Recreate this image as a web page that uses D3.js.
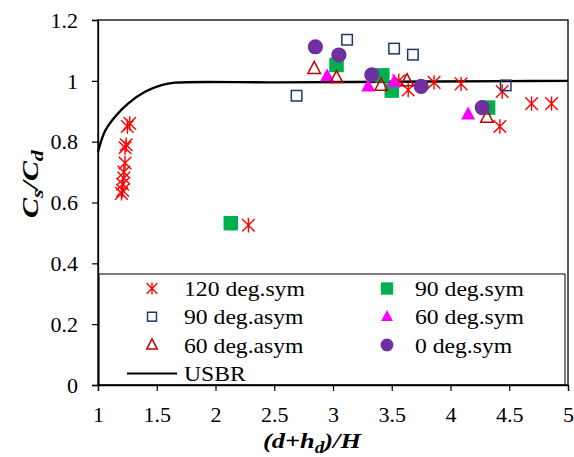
<!DOCTYPE html>
<html><head><meta charset="utf-8">
<script src="https://cdn.jsdelivr.net/npm/d3@7/dist/d3.min.js"></script>
<style>body{margin:0;background:#fff}svg{display:block}</style>
</head><body>
<svg id="c" width="574" height="457"></svg>
<script>
// ---- data ----
const xTicks = [1, 1.5, 2, 2.5, 3, 3.5, 4, 4.5, 5];
const yTicks = [0, 0.2, 0.4, 0.6, 0.8, 1, 1.2];
const sym120 = [[1.27,0.86],[1.25,0.85],[1.24,0.79],[1.23,0.78],[1.23,0.73],[1.22,0.70],[1.22,0.68],[1.21,0.66],[1.21,0.64],[1.20,0.63],[2.28,0.525],[3.56,1.0],[3.64,0.97],[3.86,0.995],[4.09,0.99],[4.44,0.965],[4.42,0.85],[4.69,0.925],[4.86,0.925]];
const sym90 = [[2.13,0.532],[3.03,1.052],[3.42,1.018],[3.50,0.968],[4.32,0.912]];
const asym90 = [[2.69,0.951],[3.12,1.135],[3.52,1.106],[3.68,1.086],[4.47,0.985]];
const sym60 = [[2.95,1.016],[3.30,0.982],[3.52,0.997],[4.15,0.89]];
const asym60 = [[2.84,1.04],[3.03,1.01],[3.41,0.985],[3.63,1.0],[4.31,0.88]];
const sym0 = [[2.85,1.112],[3.05,1.085],[3.33,1.02],[3.75,0.982],[4.27,0.912]];
const usbr = [[1.0,0.767],[1.06,0.835],[1.145,0.882],[1.258,0.926],[1.40,0.964],[1.54,0.986],[1.655,0.994],[2.5,0.995],[3.5,0.997],[4.5,0.999],[5.0,1.0]];
const legendItems = [
  {label:"120 deg.sym", type:"star"},
  {label:"90 deg.sym", type:"fsquare"},
  {label:"90 deg.asym", type:"osquare"},
  {label:"60 deg.sym", type:"ftri"},
  {label:"60 deg.asym", type:"otri"},
  {label:"0 deg.sym", type:"circle"}
];

const svg = d3.select("#c");
const x = d3.scaleLinear().domain([1,5]).range([98,568]);
const y = d3.scaleLinear().domain([0,1.2]).range([385,20]);
const font = "'Liberation Serif','Times New Roman',serif";

function marker(g, type, cx, cy, s) {
  s = s || 1;
  if (type === "star") {
    const h = 7.2*s, d = 6.3*s;
    const p = `M${cx},${cy-h}L${cx},${cy+h}M${cx-d},${cy-d}L${cx+d},${cy+d}M${cx-d},${cy+d}L${cx+d},${cy-d}`;
    g.append("path").attr("d",p).attr("stroke","#FF0000").attr("stroke-width",1.4).attr("fill","none");
  } else if (type === "fsquare") {
    const a = 14.5*s;
    g.append("rect").attr("x",cx-a/2).attr("y",cy-a/2).attr("width",a).attr("height",a).attr("fill","#00B050");
  } else if (type === "osquare") {
    const a = 10.5*s;
    g.append("rect").attr("x",cx-a/2).attr("y",cy-a/2).attr("width",a).attr("height",a).attr("fill","none").attr("stroke","#1F3864").attr("stroke-width",1.5);
  } else if (type === "ftri") {
    const w = 14*s, h = 13*s;
    g.append("path").attr("d",`M${cx},${cy-h*0.6}L${cx+w/2},${cy+h*0.4}L${cx-w/2},${cy+h*0.4}Z`).attr("fill","#FF00FF");
  } else if (type === "otri") {
    const w = 12.5*s, h = 12*s;
    g.append("path").attr("d",`M${cx},${cy-h*0.6}L${cx+w/2},${cy+h*0.4}L${cx-w/2},${cy+h*0.4}Z`).attr("fill","none").attr("stroke","#C00000").attr("stroke-width",1.5);
  } else if (type === "circle") {
    g.append("circle").attr("cx",cx).attr("cy",cy).attr("r",7.6*s).attr("fill","#7030A0");
  }
}

// USBR curve
const line = d3.line().x(d=>x(d[0])).y(d=>y(d[1])).curve(d3.curveCatmullRom.alpha(0.5));
svg.append("path").datum(usbr).attr("d",line).attr("fill","none").attr("stroke","#000").attr("stroke-width",2.4);

// scatter series (Excel order)
const series = [[sym120,"star"],[sym90,"fsquare"],[asym90,"osquare"],[sym60,"ftri"],[asym60,"otri"],[sym0,"circle"]];
const gm = svg.append("g");
series.forEach(([data,type]) => data.forEach(d => marker(gm, type, x(d[0]), y(d[1]))));

// legend box
const lg = svg.append("g");
lg.append("rect").attr("x",99).attr("y",274).attr("width",466).attr("height",111).attr("fill","#fff").attr("stroke","#000").attr("stroke-width",1);
const markY = [288.5, 316.7, 345];
const textY = [296, 324, 352.7];
legendItems.forEach((it,i) => {
  const col = i % 2, row = Math.floor(i/2);
  const mx = col === 0 ? 152 : 387, tx = col === 0 ? 184 : 415;
  marker(lg, it.type, mx, markY[row], 0.85);
  lg.append("text").attr("transform",`translate(${tx},${textY[row]}) scale(1.1,1)`).text(it.label)
    .attr("font-family",font).attr("font-size",21.5).attr("fill","#000");
});
lg.append("line").attr("x1",127).attr("x2",177).attr("y1",373.5).attr("y2",373.5).attr("stroke","#000").attr("stroke-width",2);
lg.append("text").attr("transform","translate(184,380.7) scale(1.1,1)").text("USBR").attr("font-family",font).attr("font-size",21.5);

// frame
svg.append("rect").attr("x",98).attr("y",20).attr("width",470).attr("height",365).attr("fill","none").attr("stroke","#000").attr("stroke-width",1.3);

// axes
const xa = svg.append("g").attr("transform","translate(0,385)")
  .call(d3.axisBottom(x).tickValues(xTicks).tickSize(6).tickFormat(d3.format("")));
const ya = svg.append("g").attr("transform","translate(98,0)")
  .call(d3.axisLeft(y).tickValues(yTicks).tickSize(6).tickFormat(d3.format("")));
[xa,ya].forEach(a => {
  a.select(".domain").attr("stroke","#000").attr("stroke-width",1.3);
  a.selectAll(".tick line").attr("stroke","#000").attr("stroke-width",1.2);
  a.selectAll("text").attr("font-family",font).attr("font-size",22).attr("fill","#000");
});
xa.selectAll("text").attr("y",37).attr("dy",0);
ya.selectAll("text").attr("x",-20).attr("dy","0.33em");

// axis titles
const xt = svg.append("text").attr("transform","translate(263,448) scale(1.2,1)")
  .attr("font-family",font).attr("font-size",22).attr("font-weight","bold").attr("font-style","italic");
xt.append("tspan").text("(d+h");
xt.append("tspan").text("d").attr("font-size",16).attr("dy",5);
xt.append("tspan").text(")/H").attr("dy",-5);

const yt = svg.append("text").attr("transform","translate(38,184) rotate(-90) scale(1.3,1)").attr("text-anchor","middle")
  .attr("font-family",font).attr("font-size",23).attr("font-weight","bold").attr("font-style","italic");
yt.append("tspan").text("C");
yt.append("tspan").text("s").attr("font-size",17).attr("dy",5);
yt.append("tspan").text("/C").attr("dy",-5);
yt.append("tspan").text("d").attr("font-size",17).attr("dy",5);
</script>
</body></html>
